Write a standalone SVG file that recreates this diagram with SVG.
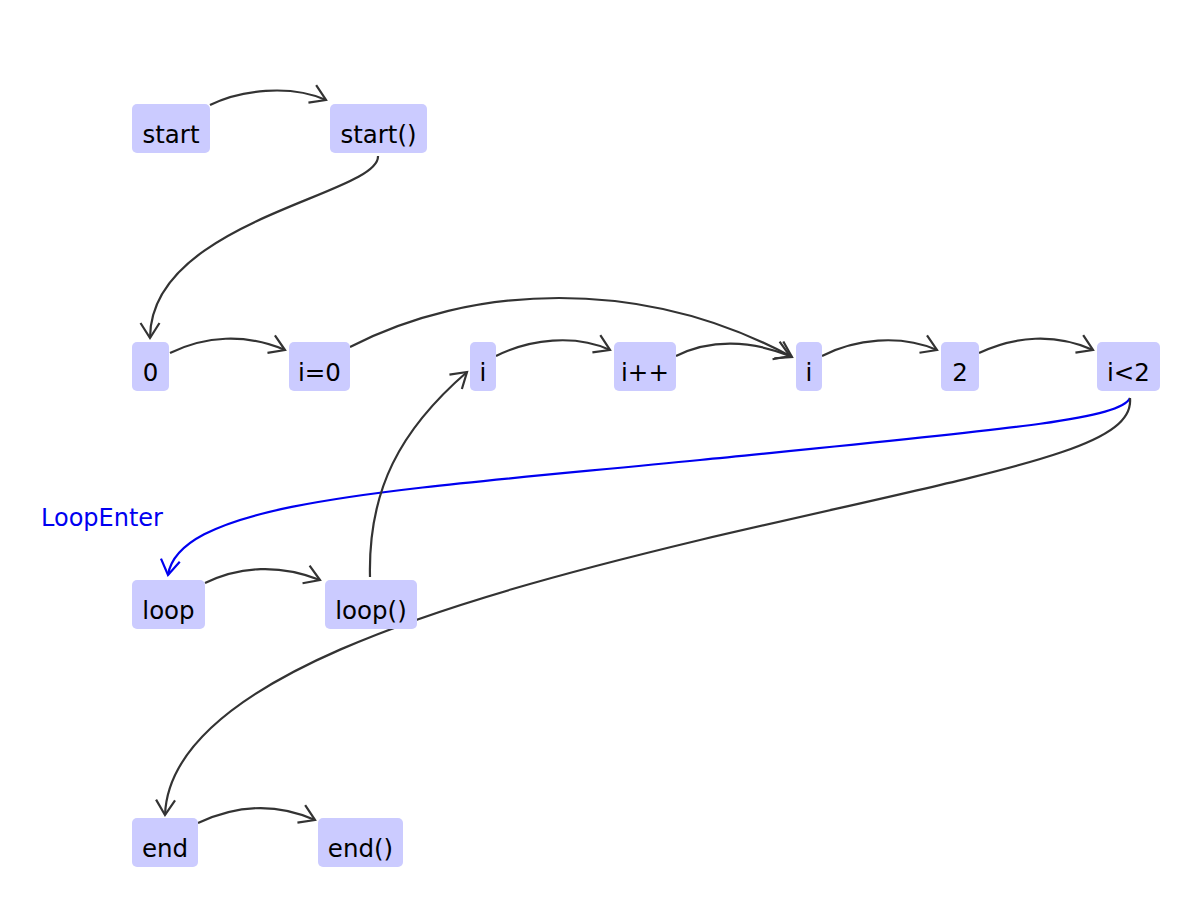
<svg xmlns="http://www.w3.org/2000/svg" width="1200" height="906" viewBox="0 0 1200 906">
<style>
.n rect{fill:#cbcbff;}
.n text{font-family:"DejaVu Sans",sans-serif;font-size:24.5px;fill:#000;text-anchor:middle;}
.e path{fill:none;stroke:#333;stroke-width:2.2;}
.e path.b{stroke:#0000f0;}
.lbl{font-family:"DejaVu Sans",sans-serif;font-size:24px;fill:#0000f0;}
</style>
<defs>
<marker id="a" markerUnits="userSpaceOnUse" markerWidth="40" markerHeight="40" viewBox="-20 -20 40 40" refX="0" refY="0" orient="auto">
<path d="M-15,-9.5 L0,0 L-15,9.5" fill="none" stroke="#333" stroke-width="2.2"/>
</marker>
<marker id="ab" markerUnits="userSpaceOnUse" markerWidth="40" markerHeight="40" viewBox="-20 -20 40 40" refX="0" refY="0" orient="auto">
<path d="M-15,-9.5 L0,0 L-15,9.5" fill="none" stroke="#0000f0" stroke-width="2.2"/>
</marker>
</defs>
<rect width="1200" height="906" fill="#fff"/>
<g id="edges" class="e">
<path d="M210,105 C240,90 290,84 326,100" marker-end="url(#a)"/>
<path d="M378,156 C380,195 150,220 150,338" marker-end="url(#a)"/>
<path d="M170,353 C205,336 245,333 285,350" marker-end="url(#a)"/>
<path d="M350,347 C470,285 640,275 792,357" marker-end="url(#a)"/>
<path d="M496,356 C530,339 575,334 610,350" marker-end="url(#a)"/>
<path d="M676,356 C710,339 750,340 790,356" marker-end="url(#a)"/>
<path d="M822,356 C855,339 900,334 937,350" marker-end="url(#a)"/>
<path d="M979,353 C1015,336 1055,333 1093,350" marker-end="url(#a)"/>
<path class="b" d="M1130,398 C1120,420 1000,430 700,460 C400,490 180,500 168,575" marker-end="url(#ab)"/>
<path d="M1130,398 C1135,450 1000,470 700,540 C450,600 170,680 165,815" marker-end="url(#a)"/>
<path d="M205,583 C240,566 280,564 320,580" marker-end="url(#a)"/>
<path d="M370,577 C368,490 400,430 467,372" marker-end="url(#a)"/>
<path d="M198,823 C230,808 270,800 315,820" marker-end="url(#a)"/>
</g>
<text class="lbl" x="41" y="526">LoopEnter</text>
<g id="n_start" class="n"><rect x="132" y="104" width="78" height="49" rx="5"/><text x="171" y="143">start</text></g>
<g id="n_startcall" class="n"><rect x="330" y="104" width="97" height="49" rx="5"/><text x="378.5" y="143">start()</text></g>
<g id="n_0" class="n"><rect x="132" y="342" width="37" height="49" rx="5"/><text x="150.5" y="381">0</text></g>
<g id="n_i0" class="n"><rect x="289" y="342" width="61" height="49" rx="5"/><text x="319.5" y="381">i=0</text></g>
<g id="n_i1" class="n"><rect x="470" y="342" width="26" height="49" rx="5"/><text x="483" y="381">i</text></g>
<g id="n_ipp" class="n"><rect x="614" y="342" width="62" height="49" rx="5"/><text x="645" y="381">i++</text></g>
<g id="n_i2" class="n"><rect x="796" y="342" width="26" height="49" rx="5"/><text x="809" y="381">i</text></g>
<g id="n_2" class="n"><rect x="941" y="342" width="38" height="49" rx="5"/><text x="960" y="381">2</text></g>
<g id="n_ilt2" class="n"><rect x="1097" y="342" width="63" height="49" rx="5"/><text x="1128.5" y="381">i&lt;2</text></g>
<g id="n_loop" class="n"><rect x="132" y="580" width="73" height="49" rx="5"/><text x="168.5" y="619">loop</text></g>
<g id="n_loopcall" class="n"><rect x="325" y="580" width="92" height="49" rx="5"/><text x="371" y="619">loop()</text></g>
<g id="n_end" class="n"><rect x="132" y="818" width="66" height="49" rx="5"/><text x="165" y="857">end</text></g>
<g id="n_endcall" class="n"><rect x="318" y="818" width="85" height="49" rx="5"/><text x="360.5" y="857">end()</text></g>
</svg>
